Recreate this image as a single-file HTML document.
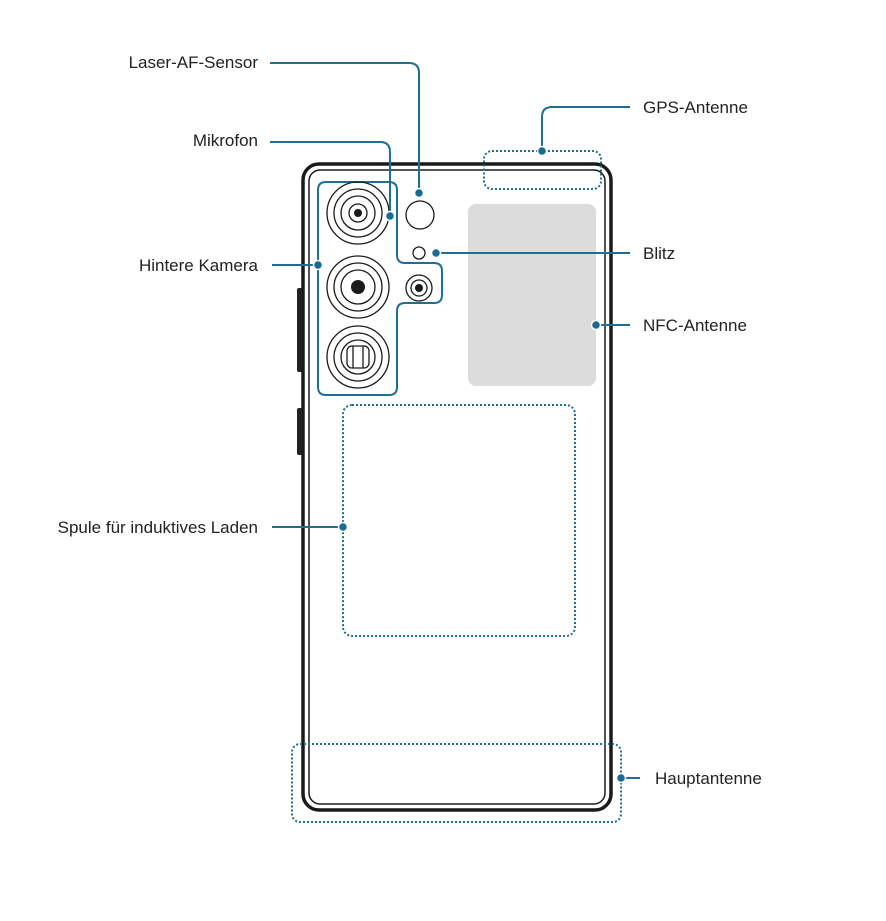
<!DOCTYPE html>
<html><head><meta charset="utf-8"><style>
html,body{margin:0;padding:0;background:#fff;}
svg{display:block;}
text{font-family:"Liberation Sans",sans-serif;font-size:17px;fill:#222;}
</style></head><body>
<svg width="886" height="921" viewBox="0 0 886 921" xmlns="http://www.w3.org/2000/svg">
<!-- side buttons -->
<rect x="297" y="288" width="6" height="84" rx="2" fill="#222"/>
<rect x="297" y="408" width="6" height="47" rx="2" fill="#222"/>
<!-- phone -->
<rect x="303" y="164" width="308" height="646" rx="16" fill="#fff" stroke="#1a1a1a" stroke-width="3.5"/>
<rect x="309" y="170" width="296" height="634" rx="11" fill="none" stroke="#1a1a1a" stroke-width="1.5"/>
<!-- NFC -->
<rect x="468" y="204" width="128" height="182" rx="8" fill="#dcdcdc"/>
<!-- dotted areas -->
<g fill="none" stroke="#1f6f95" stroke-width="2" stroke-dasharray="2 2">
<rect x="484" y="151" width="117" height="38" rx="8"/>
<rect x="343" y="405" width="232" height="231" rx="9"/>
<rect x="292" y="744" width="329" height="78" rx="8"/>
</g>
<!-- camera module -->
<path d="M326 182 H389 Q397 182 397 190 V255 Q397 263 405 263 H434 Q442 263 442 271 V295 Q442 303 434 303 H405 Q397 303 397 311 V387 Q397 395 389 395 H326 Q318 395 318 387 V190 Q318 182 326 182 Z" fill="none" stroke="#1f6f95" stroke-width="2"/>
<g fill="none" stroke="#1a1a1a" stroke-width="1.3">
<circle cx="358" cy="213" r="31"/><circle cx="358" cy="213" r="24"/><circle cx="358" cy="213" r="17"/><circle cx="358" cy="213" r="9"/>
<circle cx="358" cy="287" r="31"/><circle cx="358" cy="287" r="24"/><circle cx="358" cy="287" r="17"/>
<circle cx="358" cy="357" r="31"/><circle cx="358" cy="357" r="24"/><circle cx="358" cy="357" r="17"/>
<rect x="347" y="346" width="22" height="22" rx="5"/><line x1="353" y1="346" x2="353" y2="368"/><line x1="363" y1="346" x2="363" y2="368"/>
<circle cx="420" cy="215" r="14"/>
<circle cx="419" cy="253" r="6"/>
<circle cx="419" cy="288" r="13"/><circle cx="419" cy="288" r="8"/>
</g>
<circle cx="358" cy="213" r="4" fill="#1a1a1a"/>
<circle cx="358" cy="287" r="7" fill="#1a1a1a"/>
<circle cx="419" cy="288" r="4" fill="#1a1a1a"/>
<!-- connectors -->
<g fill="none" stroke="#1f6f95" stroke-width="2">
<path d="M270 63 H409 Q419 63 419 73 V193"/>
<path d="M270 142 H380 Q390 142 390 152 V216"/>
<path d="M542 151 V117 Q542 107 552 107 H630"/>
<line x1="272" y1="265" x2="318" y2="265"/>
<line x1="436" y1="253" x2="630" y2="253"/>
<line x1="596" y1="325" x2="630" y2="325"/>
<line x1="272" y1="527" x2="343" y2="527"/>
<line x1="621" y1="778" x2="640" y2="778"/>
</g>
<g fill="#1a6a96" stroke="#fff" stroke-width="1.5">
<circle cx="419" cy="193" r="4.5"/><circle cx="390" cy="216" r="4.5"/><circle cx="542" cy="151" r="4.5"/>
<circle cx="318" cy="265" r="4.5"/><circle cx="436" cy="253" r="4.5"/><circle cx="596" cy="325" r="4.5"/>
<circle cx="343" cy="527" r="4.5"/><circle cx="621" cy="778" r="4.5"/>
</g>
<!-- labels -->
<g text-anchor="end">
<text x="258" y="68">Laser-AF-Sensor</text>
<text x="258" y="146">Mikrofon</text>
<text x="258" y="271">Hintere Kamera</text>
<text x="258" y="533">Spule für induktives Laden</text>
</g>
<text x="643" y="113">GPS-Antenne</text>
<text x="643" y="259">Blitz</text>
<text x="643" y="331">NFC-Antenne</text>
<text x="655" y="784">Hauptantenne</text>
</svg>
</body></html>
